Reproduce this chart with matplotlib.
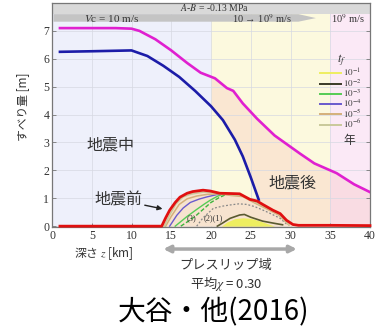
import matplotlib
matplotlib.use("Agg")
import matplotlib.pyplot as plt
from matplotlib.lines import Line2D
from matplotlib.patches import Polygon
import numpy as np

plt.rcParams['font.family'] = ['Liberation Serif', 'Noto Sans CJK JP']
plt.rcParams['mathtext.fontset'] = 'stix'

JP = ['Noto Sans CJK JP', 'DejaVu Sans']

# slip profiles along depth (km) -> slip (m)
post_x = [1, 4, 8, 10, 11, 13, 15, 17, 18.7, 20.5, 22, 22.8, 24, 25.8, 28, 31.2, 33, 35.8, 38, 40]
post_y = [7.1, 7.1, 7.1, 7.08, 7.0, 6.7, 6.3, 5.85, 5.5, 5.3, 4.95, 4.85, 4.4, 3.85, 3.25, 2.6, 2.25, 1.9, 1.5, 1.22]

co_x = [1, 5, 10, 12, 14, 16, 18, 20, 21.5, 23, 24, 25, 26]
co_y = [6.25, 6.27, 6.3, 6.1, 5.75, 5.35, 4.85, 4.3, 3.8, 3.1, 2.5, 1.75, 0.95]

pre_x = [1, 13.8, 14.3, 14.8, 15.5, 16.1, 17, 17.7, 19, 19.9, 21.1, 22.5, 23.6, 24.9, 25.8, 26.5, 27.8, 28.7, 29.5, 30.3, 31, 35, 40]
pre_y = [0, 0, 0.3, 0.57, 0.85, 1.04, 1.18, 1.24, 1.29, 1.26, 1.18, 1.17, 1.16, 0.96, 0.9, 0.78, 0.57, 0.45, 0.21, 0.06, 0.03, 0.03, 0.02]

# preslip profiles for each t_f
tf6_x = [14.1, 14.8, 15.6, 16.5, 17.5, 19, 20.5, 22.5, 24, 25.5, 27, 28.5, 29.8]
tf6_y = [0, 0.4, 0.8, 1.05, 1.15, 1.22, 1.2, 1.13, 1.1, 0.86, 0.66, 0.43, 0.05]
tf5_x = [14.3, 15, 16, 17, 18.2, 19.5, 21, 22.5, 24, 25.5, 27, 28.5, 29.8]
tf5_y = [0, 0.35, 0.78, 0.98, 1.08, 1.14, 1.16, 1.1, 1.06, 0.83, 0.62, 0.4, 0.04]
tf4_x = [14.8, 15.7, 16.5, 17.4, 18.5, 19.5, 21]
tf4_y = [0, 0.39, 0.65, 0.85, 0.97, 1.05, 1.15]
tf3_x = [15.5, 16.1, 17, 18.2, 19.2, 19.9, 20.8, 21.5]
tf3_y = [0, 0.14, 0.35, 0.6, 0.8, 0.93, 1.07, 1.15]
tf3b_x = [16.2, 17, 18, 19, 20, 21, 22]
tf3b_y = [0, 0.15, 0.35, 0.6, 0.85, 1.02, 1.15]
dot_x = [18.2, 19, 20.3, 21.5, 22.4, 23.5, 24.5, 25.5, 26.5, 27.5, 28.7, 29.6]
dot_y = [0, 0.3, 0.64, 0.72, 0.76, 0.8, 0.78, 0.7, 0.58, 0.45, 0.28, 0.05]
tf2_x = [20.8, 21.5, 22.4, 23.6, 24.2, 25, 26.5, 28, 29]
tf2_y = [0, 0.12, 0.28, 0.4, 0.42, 0.32, 0.18, 0.1, 0.05]
tf1_x = [21.3, 22, 23, 24, 25, 26, 27, 28]
tf1_y = [0, 0.15, 0.27, 0.3, 0.28, 0.2, 0.1, 0]

tf_labels = ['$10^{-1}$', '$10^{-2}$', '$10^{-3}$', '$10^{-4}$', '$10^{-5}$', '$10^{-6}$']
tf_colors = ['#eeee60', '#3a3a28', '#55cc55', '#6a5acd', '#d4b07a', '#c9c99a']

x_ticks = [0, 5, 10, 15, 20, 25, 30, 35, 40]
y_ticks = [0, 1, 2, 3, 4, 5, 6, 7]

fig = plt.figure(figsize=(3.87, 3.30), dpi=100)
ax = fig.add_axes([52/387, 1-227/330, 318/387, 224/330])
ax.set_xlim(0, 40)
ax.set_ylim(-0.03, 8.0)

# stage backgrounds
ax.axvspan(0, 20, color='#eef0fb', zorder=0, lw=0)
ax.axvspan(20, 35, color='#fcf9de', zorder=0, lw=0)
ax.axvspan(35, 40, color='#fbe9f6', zorder=0, lw=0)

# afterslip area: right of the coseismic profile, below the final profile
xf = np.linspace(20, 40, 300)
co_end = co_x[-1]
lower = np.where(xf < co_end, np.interp(xf, co_x, co_y), np.interp(xf, pre_x, pre_y))
ax.fill_between(xf, lower, np.interp(xf, post_x, post_y),
                color='#f7c0b8', alpha=0.3, lw=0, zorder=0.5)
ax.fill_between(pre_x, 0, pre_y, color='#f7e3cf', lw=0, zorder=0.6)

ax.set_xticks(x_ticks)
ax.set_yticks(y_ticks)
ax.grid(True, color='#d6d8e2', lw=0.5, zorder=0.7)
ax.set_axisbelow(True)
ax.tick_params(direction='in', length=3, width=0.6, color='#777777', labelsize=8.5,
               labelcolor='#333333', top=True, right=True, pad=2)
for s in ax.spines.values():
    s.set_color('#777777')
    s.set_linewidth(0.9)

# velocity bands at the top
ax.axhspan(7.62, 8.0, color='#d9d9d9', lw=0, zorder=1)
ax.add_patch(Polygon([[0.2, 7.33], [31.0, 7.33], [33.2, 7.46], [31.0, 7.6], [0.2, 7.6]],
                     closed=True, color='#c4c4c4', lw=0, zorder=1.1))
ax.text(20.5, 7.84, '$A$-$B$ = -0.13 MPa', fontsize=7, color='#333333', ha='center', va='center', zorder=2)
ax.text(7.5, 7.46, '$V$c = 10 m/s', fontsize=8, color='#333333', ha='center', va='center', zorder=2)
ax.text(26.4, 7.44, '10 → 10$^9$ m/s', fontsize=7.5, color='#333333', ha='center', va='center', zorder=2)
ax.text(37.2, 7.44, '10$^9$ m/s', fontsize=7.5, color='#333333', ha='center', va='center', zorder=2)

# preslip curves
ax.fill_between(tf1_x, 0, tf1_y, color=tf_colors[0], lw=0, zorder=2)
ax.plot(tf2_x, tf2_y, color='#5a5a30', lw=1.2, zorder=2.2)
ax.plot(dot_x, dot_y, color='#888888', lw=0.9, ls=(0, (1.5, 1.5)), zorder=2.2)
ax.plot(tf3b_x, tf3b_y, color='#3cb43c', lw=1.0, ls=(0, (3, 1.5)), zorder=2.2)
ax.plot(tf3_x, tf3_y, color=tf_colors[2], lw=1.0, zorder=2.3)
ax.plot(tf4_x, tf4_y, color=tf_colors[3], lw=1.0, zorder=2.3)
ax.plot(tf5_x, tf5_y, color=tf_colors[4], lw=1.1, zorder=2.3)
ax.plot(tf6_x, tf6_y, color=tf_colors[5], lw=1.1, zorder=2.3)
ax.text(17.6, 0.3, '(3)', fontsize=6, color='#333333', ha='center', va='center', zorder=3)
ax.text(20.3, 0.3, '(2)(1)', fontsize=6, color='#333333', ha='center', va='center', zorder=3)

# main slip profiles
ax.plot(post_x, post_y, color='#e020d0', lw=1.9, zorder=3)
ax.plot(co_x, co_y, color='#1c1ca8', lw=1.9, zorder=3)
ax.plot(pre_x, pre_y, color='#e01010', lw=2.0, zorder=3.5, clip_on=False)

# stage labels
ax.text(7.3, 2.9, '地震中', family=JP, fontsize=11.5, color='#333333', ha='center', va='center')
ax.text(30.2, 1.55, '地震後', family=JP, fontsize=11.5, color='#333333', ha='center', va='center')
ax.annotate('地震前', xy=(13.9, 0.62), xytext=(8.3, 0.95), family=JP, fontsize=11.5,
            color='#333333', ha='center', va='center',
            arrowprops=dict(arrowstyle='-|>', color='#222222', lw=1.0, mutation_scale=7,
                            shrinkA=22, shrinkB=0))

# t_f legend
handles = [Line2D([], [], color=c, lw=1.4) for c in tf_colors]
leg = ax.legend(handles, tf_labels, loc='upper left', bbox_to_anchor=(0.83, 0.80),
                frameon=False, fontsize=6.5, handlelength=2.3, handletextpad=0.25,
                labelspacing=-0.15, borderpad=0, title='$t_f$', title_fontsize=9)
for t in leg.get_texts():
    t.set_color('#333333')
leg.get_title().set_color('#333333')
ax.text(0.935, 0.385, '年', family=JP, fontsize=8.5, color='#333333',
        ha='center', va='center', transform=ax.transAxes)

# labels below the axes
ax.text(6.5, -0.97, '深さ $z$ [km]', family=JP, fontsize=8.5, color='#333333',
        ha='center', va='center', clip_on=False)
ax.annotate('', xy=(14.0, -0.82), xytext=(30.8, -0.82),
            arrowprops=dict(arrowstyle='<|-|>', color='#a8a8a8', lw=2.5, mutation_scale=10,
                            shrinkA=0, shrinkB=0), annotation_clip=False)
ax.text(21.9, -1.42, 'プレスリップ域', family=JP, fontsize=9.5, color='#333333',
        ha='center', va='center', clip_on=False)
ax.text(21.9, -2.07, '平均$\\chi$ = 0.30', family=JP, fontsize=9.5, color='#333333',
        ha='center', va='center', clip_on=False)

fig.text(23/387, 1-107/330, 'すべり量 [m]', family=JP, fontsize=8.5, color='#333333',
         rotation=90, ha='center', va='center')
fig.text(214/387, 1-312/330, '大谷・他(2016)', family=JP, fontsize=20, color='black',
         ha='center', va='center')

fig.savefig('out.png', dpi=100)
